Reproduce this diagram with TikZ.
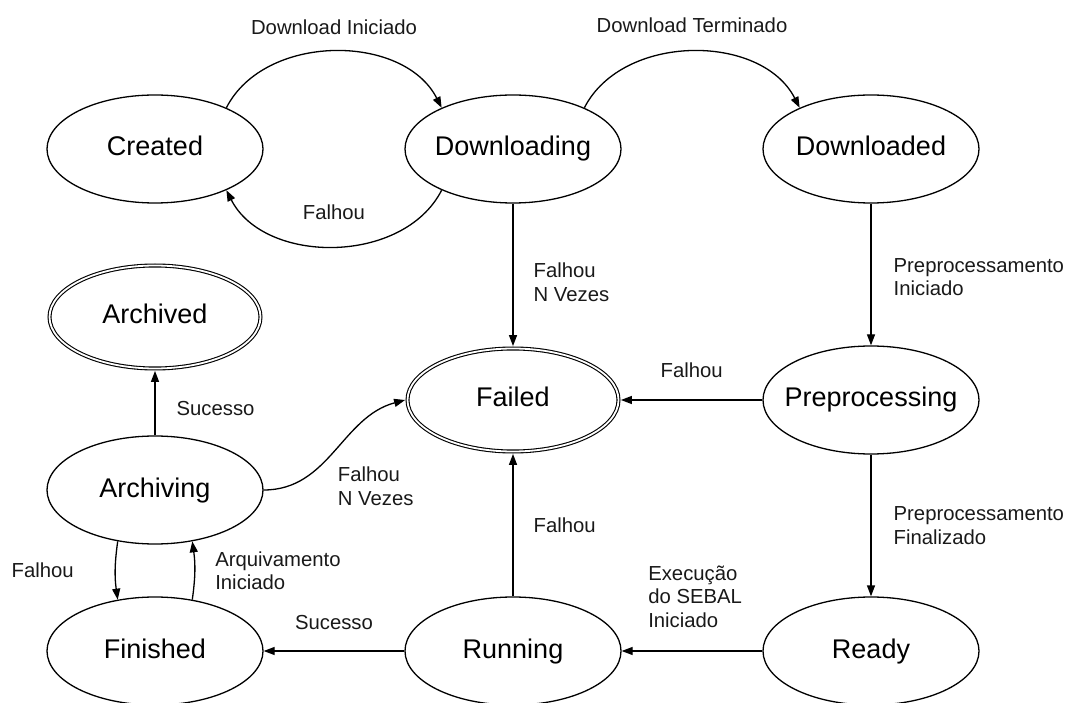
\documentclass[tikz,border=0pt]{standalone}
\usepackage{fontspec}
\setmainfont{Liberation Sans}
\usetikzlibrary{shapes.geometric, arrows.meta, positioning}
\tikzset{
	statenode/.style = {ellipse, draw=black, line width=1.3pt, inner xsep=-20pt, inner ysep=0pt, text height=20pt, text depth=6pt, minimum width=216pt, minimum height=108pt, font=\fontsize{27}{30}\selectfont},
	finalnode/.style = {statenode, double, double distance=1.8pt, line width=1.1pt, outer sep=2.4pt, minimum width=211pt, minimum height=103pt},
	trans/.style = {-{Triangle[length=11pt, width=8pt]}, line width=1.3pt},
	lbl/.style = {align=left, inner sep=2pt, text=black!90, font=\fontsize{20.3}{23.5}\selectfont}
}

\begin{document}
\begin{tikzpicture}[x=1pt, y=1pt]
\useasboundingbox (0,0) rectangle (1070,702);

% states
\node [statenode] (created) at (155,553) {Created};
\node [statenode] (downloading) at (513,553) {Downloading};
\node [statenode] (downloaded) at (871,553) {Downloaded};
\node [finalnode] (archived) at (155,385) {Archived};
\node [finalnode] (failed) at (513,302) {Failed};
\node [statenode] (preprocessing) at (871,302) {Preprocessing};
\node [statenode] (archiving) at (155,212) {Archiving};
\node [statenode] (finished) at (155,51) {Finished};
\node [statenode] (running) at (513,51) {Running};
\node [statenode] (ready) at (871,51) {Ready};

% transitions
\draw [trans] (created.30) to[out=63, in=117] node[lbl, midway, above=14pt] {Download Iniciado} (downloading.150);
\draw [trans] (downloading.210) to[out=243, in=297] node[lbl, midway, above=24pt] {Falhou} (created.330);
\draw [trans] (downloading.30) to[out=63, in=117] node[lbl, midway, above=16pt] {Download Terminado} (downloaded.150);
\draw [trans] (downloading) -- node[lbl, pos=0.55, right=18pt] {Falhou\\N Vezes} (failed);
\draw [trans] (downloaded) -- node[lbl, pos=0.52, right=20pt] {Preprocessamento\\Iniciado} (preprocessing);
\draw [trans] (preprocessing) -- node[lbl, midway, above=20pt] {Falhou} (failed);
\draw [trans] (preprocessing) -- node[lbl, midway, right=20pt] {Preprocessamento\\Finalizado} (ready);
\draw [trans] (ready) -- node[lbl, pos=1, above right=21pt and 24pt] {Execução\\do SEBAL\\Iniciado} (running);
\draw [trans] (running) -- node[lbl, midway, right=18pt] {Falhou} (failed);
\draw [trans] (running) -- node[lbl, midway, above=19pt] {Sucesso} (finished);
\draw [trans] (finished.54) to[bend right=8] node[lbl, midway, right=18pt] {Arquivamento\\Iniciado} (archiving.306);
\draw [trans] (archiving.234) to[bend right=8] node[lbl, midway, left=39pt] {Falhou} (finished.126);
\draw [trans] (archiving) -- node[lbl, pos=0.41, right=19pt] {Sucesso} (archived);
\draw [trans] (archiving.east) to[out=0, in=195] node[lbl, midway, anchor=west, yshift=-35pt] {Falhou\\N Vezes} (failed.west);
\end{tikzpicture}
\end{document}
